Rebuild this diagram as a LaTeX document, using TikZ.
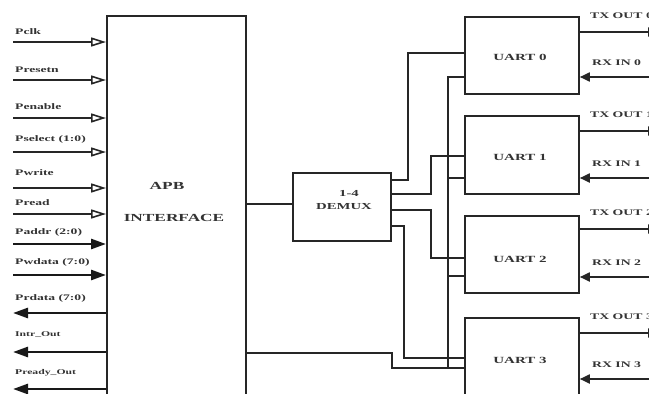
\documentclass[tikz,border=0pt]{standalone}
\usepackage{fontspec}
\setmainfont{Liberation Serif}
\newfontfamily\lf{Liberation Serif}[FakeStretch=1.6]
\usetikzlibrary{arrows.meta}
\begin{document}
\begin{tikzpicture}[x=1pt,y=-1pt,
  box/.style={draw=black!85, line width=1.8pt, fill=white, inner sep=0pt, anchor=north west},
  txt/.style={inner sep=0pt, text=black!80, font=\lf\bfseries\fontsize{#1}{#1}\selectfont},
  conn/.style={draw=black!85, line width=1.8pt},
  busline/.style={draw=black!85, line width=1.1pt},
  inarr/.style={draw=black!85, line width=1.3pt, -{Triangle[open, length=15pt, width=9pt, line width=1.6pt]}},
  busin/.style={draw=black!90, line width=2.6pt, -{Triangle[length=15pt, width=10pt]}},
  busout/.style={draw=black!90, line width=2.6pt, {Triangle[length=15pt, width=10pt]}-},
  txarr/.style={draw=black!85, line width=1.8pt, -{Triangle[length=10pt, width=9pt]}},
  rxarr/.style={draw=black!85, line width=1.8pt, -{Triangle[length=10pt, width=9pt]}}
]
\useasboundingbox (0,0) rectangle (649,394);
\clip (0,0) rectangle (649,394);

% boxes
\node[box, minimum width=139pt, minimum height=400pt] (apb) at (106,15) {};
\node[txt=10.8] (apbt1) at (167,186) {APB};
\node[txt=10.8] (apbt2) at (174,218) {INTERFACE};

\node[box, minimum width=98pt, minimum height=68pt] (demux) at (292,172) {};
\node[txt=9.2] (demt1) at (349,193) {1-4};
\node[txt=9.2] (demt2) at (344,207) {DEMUX};

\node[box, minimum width=114pt, minimum height=77pt] (uart0) at (464,16) {};
\node[box, minimum width=114pt, minimum height=78pt] (uart1) at (464,115) {};
\node[box, minimum width=114pt, minimum height=77pt] (uart2) at (464,215) {};
\node[box, minimum width=114pt, minimum height=90pt] (uart3) at (464,317) {};
\node[txt=9.4] (ut0) at (520,57) {UART 0};
\node[txt=9.4] (ut1) at (520,157) {UART 1};
\node[txt=9.4] (ut2) at (520,259) {UART 2};
\node[txt=9.4] (ut3) at (520,360) {UART 3};

% left signals
\foreach \ly/\y/\t/\s/\f [count=\i] in {
  32/42/Pclk/inarr/8.5, 70/80/Presetn/inarr/8.5, 107/118/Penable/inarr/8.5,
  139/152/Pselect (1:0)/inarr/8.5, 173/188/Pwrite/inarr/8.5, 203/214/Pread/inarr/8.5,
  232/244/Paddr (2:0)/busin/8.5, 262/275/Pwdata (7:0)/busin/8.5,
  298/313/Prdata (7:0)/busout/8.5, 335/352/Intr\_Out/busout/7.3, 373/389/Pready\_Out/busout/7.3} {
  \coordinate (s\i) at (13,\y);
  \node[txt=\f, anchor=west] (l\i) at (15,\ly) {\t};
  \draw[\s] (s\i) -- (apb.west |- s\i);
}

% APB to DEMUX
\draw[conn] (apb.east |- 0,204) -- (demux.west |- 0,204);

% DEMUX outputs
\draw[conn] (demux.east |- 0,180) -| (408,53) -- (uart0.west |- 0,53);
\draw[conn] (demux.east |- 0,194) -| (431,156) -- (uart1.west |- 0,156);
\draw[conn] (demux.east |- 0,210) -| (431,258) -- (uart2.west |- 0,258);
\draw[conn] (demux.east |- 0,226) -| (404,358) -- (uart3.west |- 0,358);

% common bus from APB
\draw[conn] (apb.east |- 0,353) -| (392,368) -- (uart3.west |- 0,368);
\draw[busline] (448,368) -- (448,77) -- (uart0.west |- 0,77);
\draw[busline] (448,178) -- (uart1.west |- 0,178);
\draw[busline] (448,276) -- (uart2.west |- 0,276);

% right side
\foreach \u/\ty/\ry in {0/32/77, 1/131/178, 2/229/277, 3/333/379} {
  \coordinate (tx\u) at (658,\ty);
  \coordinate (rx\u) at (652,\ry);
  \draw[txarr] (uart\u.east |- tx\u) -- (tx\u);
  \draw[rxarr] (rx\u) -- (uart\u.east |- rx\u);
  \node[txt=8.6, anchor=west] (txl\u) at (590,\ty-16) {TX OUT \u};
  \node[txt=8.6, anchor=west] (rxl\u) at (592,\ry-14) {RX IN \u};
}
\end{tikzpicture}
\end{document}
